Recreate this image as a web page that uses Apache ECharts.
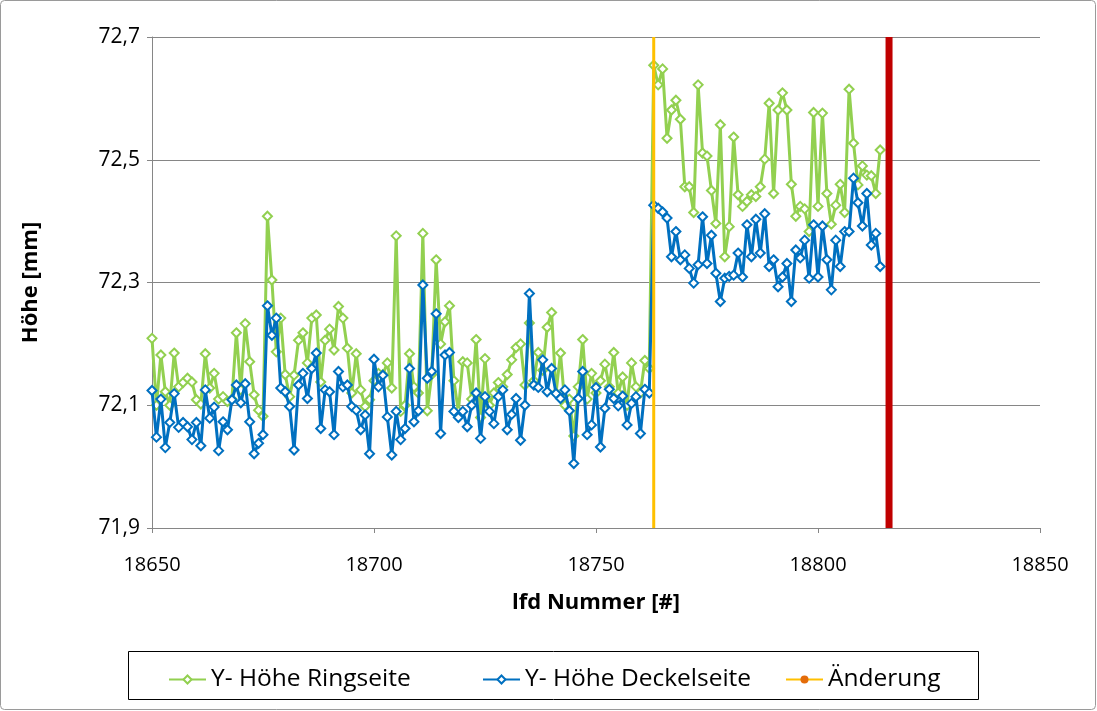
<!DOCTYPE html>
<html>
<head>
<meta charset="utf-8">
<script src="https://cdn.jsdelivr.net/npm/echarts@6/dist/echarts.min.js"></script>
<style>
  html, body { margin: 0; padding: 0; background: #fff; }
  #chart { width: 1097px; height: 711px; }
</style>
</head>
<body>
<div id="chart"></div>
<script>
// Laufende Nummer des ersten Messwerts; jeder weitere Wert folgt mit +1
const startNr = 18650;

// Y- Höhe Ringseite [mm]
const ringseite = [
  72.209, 72.10, 72.182, 72.122, 72.10, 72.185, 72.13, 72.137, 72.144, 72.138,
  72.109, 72.102, 72.184, 72.128, 72.152, 72.110, 72.114, 72.106, 72.11, 72.218,
  72.125, 72.233, 72.171, 72.117, 72.092, 72.082, 72.408, 72.304, 72.187, 72.242,
  72.15, 72.114, 72.149, 72.206, 72.218, 72.169, 72.242, 72.247, 72.138, 72.206,
  72.224, 72.190, 72.261, 72.242, 72.193, 72.12, 72.184, 72.125, 72.098, 72.109,
  72.14, 72.152, 72.15, 72.169, 72.128, 72.376, 72.09, 72.10, 72.184, 72.13,
  72.12, 72.380, 72.091, 72.15, 72.337, 72.20, 72.236, 72.262, 72.14, 72.09,
  72.171, 72.169, 72.11, 72.207, 72.08, 72.176, 72.10, 72.12, 72.137, 72.13,
  72.15, 72.174, 72.194, 72.20, 72.133, 72.234, 72.14, 72.186, 72.157, 72.227,
  72.251, 72.12, 72.185, 72.10, 72.11, 72.05, 72.13, 72.207, 72.11, 72.152,
  72.12, 72.14, 72.167, 72.13, 72.186, 72.12, 72.146, 72.10, 72.169, 72.13,
  72.12, 72.173, 72.16,
  72.654, 72.622, 72.648, 72.535, 72.581, 72.597, 72.566, 72.456, 72.456, 72.414,
  72.622, 72.511, 72.506, 72.45, 72.396, 72.557, 72.342, 72.391, 72.537, 72.443,
  72.424, 72.432, 72.443, 72.44, 72.456, 72.501, 72.592, 72.445, 72.581, 72.609,
  72.581, 72.46, 72.408, 72.424, 72.42, 72.383, 72.577, 72.424, 72.576, 72.445,
  72.395, 72.426, 72.46, 72.414, 72.615, 72.527, 72.459, 72.490, 72.475, 72.474,
  72.445, 72.516
];

// Y- Höhe Deckelseite [mm]
const deckelseite = [
  72.124, 72.048, 72.110, 72.031, 72.072, 72.119, 72.064, 72.072, 72.065, 72.044,
  72.072, 72.034, 72.125, 72.079, 72.097, 72.026, 72.073, 72.060, 72.109, 72.133,
  72.104, 72.135, 72.073, 72.021, 72.038, 72.052, 72.262, 72.214, 72.242, 72.128,
  72.122, 72.098, 72.027, 72.133, 72.152, 72.111, 72.160, 72.185, 72.062, 72.125,
  72.122, 72.052, 72.155, 72.130, 72.133, 72.098, 72.092, 72.060, 72.084, 72.021,
  72.175, 72.130, 72.149, 72.081, 72.019, 72.090, 72.044, 72.062, 72.160, 72.073,
  72.091, 72.296, 72.144, 72.155, 72.249, 72.054, 72.182, 72.186, 72.09, 72.08,
  72.09, 72.065, 72.10, 72.120, 72.046, 72.114, 72.09, 72.07, 72.114, 72.125,
  72.060, 72.085, 72.111, 72.043, 72.10, 72.282, 72.133, 72.129, 72.174, 72.122,
  72.160, 72.119, 72.111, 72.125, 72.091, 72.005, 72.111, 72.155, 72.052, 72.068,
  72.129, 72.032, 72.095, 72.126, 72.111, 72.099, 72.115, 72.068, 72.103, 72.114,
  72.054, 72.126, 72.12,
  72.426, 72.421, 72.415, 72.405, 72.342, 72.383, 72.337, 72.345, 72.323, 72.299,
  72.329, 72.407, 72.331, 72.377, 72.315, 72.269, 72.307, 72.31, 72.312, 72.348,
  72.309, 72.394, 72.342, 72.403, 72.348, 72.412, 72.326, 72.337, 72.293, 72.309,
  72.331, 72.269, 72.353, 72.34, 72.369, 72.307, 72.394, 72.309, 72.392, 72.337,
  72.288, 72.369, 72.326, 72.383, 72.383, 72.470, 72.43, 72.392, 72.445, 72.361,
  72.380, 72.326
];

// Markierungen: Änderung und Ende der Messreihe (lfd Nummer)
const aenderungNr = 18763;
const endeNr = 18816;

// Achsenbereiche
const xBereich = [18650, 18850];
const yBereich = [71.9, 72.7];

// Legendeneinträge
const legendNamen = ['Y- Höhe Ringseite', 'Y- Höhe Deckelseite', 'Änderung'];

const toPairs = vals => vals.map((v, i) => [startNr + i, v]);
const vertical = nr => [[nr, yBereich[0]], [nr, yBereich[1]]];

const FONT = 'Open Sans';
const GRID_GRAY = '#868686';

const chart = echarts.init(document.getElementById('chart'), null, { renderer: 'canvas' });

// eine Legende je Eintrag, damit jeder Eintrag seinen eigenen Platz im Rahmen bekommt
const legendLeft = [163, 477, 780];
const legends = legendNamen.map((name, i) => ({
  data: [name],
  left: legendLeft[i], top: 662,
  itemWidth: 37, itemHeight: 10, itemGap: 0,
  textStyle: { fontFamily: FONT, fontSize: 24.5, color: '#000' }
}));

chart.setOption({
  animation: false,
  backgroundColor: '#fff',
  textStyle: { fontFamily: FONT, color: '#000' },
  grid: { left: 152, right: 57, top: 37, bottom: 183, containLabel: false },
  xAxis: {
    type: 'value',
    min: xBereich[0], max: xBereich[1], interval: 50,
    name: 'lfd Nummer [#]',
    nameLocation: 'middle',
    nameGap: 64,
    nameTextStyle: { fontFamily: FONT, fontSize: 22, fontWeight: 'bold', color: '#000' },
    axisLine: { show: true, lineStyle: { color: GRID_GRAY, width: 1 } },
    axisTick: { show: true, inside: false, length: 5, lineStyle: { color: GRID_GRAY } },
    axisLabel: { fontFamily: FONT, fontSize: 20, color: '#000', margin: 27,
      formatter: v => String(v) },
    splitLine: { show: false }
  },
  yAxis: {
    type: 'value',
    min: yBereich[0], max: yBereich[1], interval: 0.2,
    name: 'Höhe [mm]',
    nameLocation: 'middle',
    nameGap: 110,
    nameRotate: 90,
    nameTextStyle: { fontFamily: FONT, fontSize: 22, fontWeight: 'bold', color: '#000' },
    axisLine: { show: true, lineStyle: { color: GRID_GRAY, width: 1 } },
    axisTick: { show: true, inside: false, length: 5, lineStyle: { color: GRID_GRAY } },
    axisLabel: {
      fontFamily: FONT, fontSize: 21, color: '#000', margin: 12,
      formatter: v => v.toFixed(1).replace('.', ',')
    },
    splitLine: { show: true, lineStyle: { color: GRID_GRAY, width: 1 } }
  },
  legend: legends,
  graphic: [
    {
      type: 'rect', silent: true,
      shape: { x: 128.5, y: 651.5, width: 850, height: 48 },
      style: { fill: 'none', stroke: '#000', lineWidth: 1 }
    },
    {
      type: 'rect', silent: true,
      shape: { x: 0.5, y: 0.5, width: 1095, height: 709, r: 4 },
      style: { fill: 'none', stroke: '#9a9a9a', lineWidth: 1 }
    }
  ],
  series: [
    {
      name: legendNamen[0],
      type: 'line',
      data: toPairs(ringseite),
      symbol: 'diamond', symbolSize: 9, showSymbol: true,
      lineStyle: { color: '#92D050', width: 3 },
      itemStyle: { color: '#fff', borderColor: '#92D050', borderWidth: 2 },
      z: 2
    },
    {
      name: legendNamen[1],
      type: 'line',
      data: toPairs(deckelseite),
      symbol: 'diamond', symbolSize: 9, showSymbol: true,
      lineStyle: { color: '#0070C0', width: 3 },
      itemStyle: { color: '#fff', borderColor: '#0070C0', borderWidth: 2 },
      z: 3
    },
    {
      name: legendNamen[2],
      type: 'line',
      data: vertical(aenderungNr),
      symbol: 'circle', symbolSize: 10, showSymbol: false,
      lineStyle: { color: '#FFC000', width: 3 },
      itemStyle: { color: '#E46C0A' },
      z: 4
    },
    {
      name: 'Ende',
      type: 'line',
      data: vertical(endeNr),
      symbol: 'none',
      lineStyle: { color: '#C00000', width: 7 },
      z: 4
    }
  ]
});
</script>
</body>
</html>
